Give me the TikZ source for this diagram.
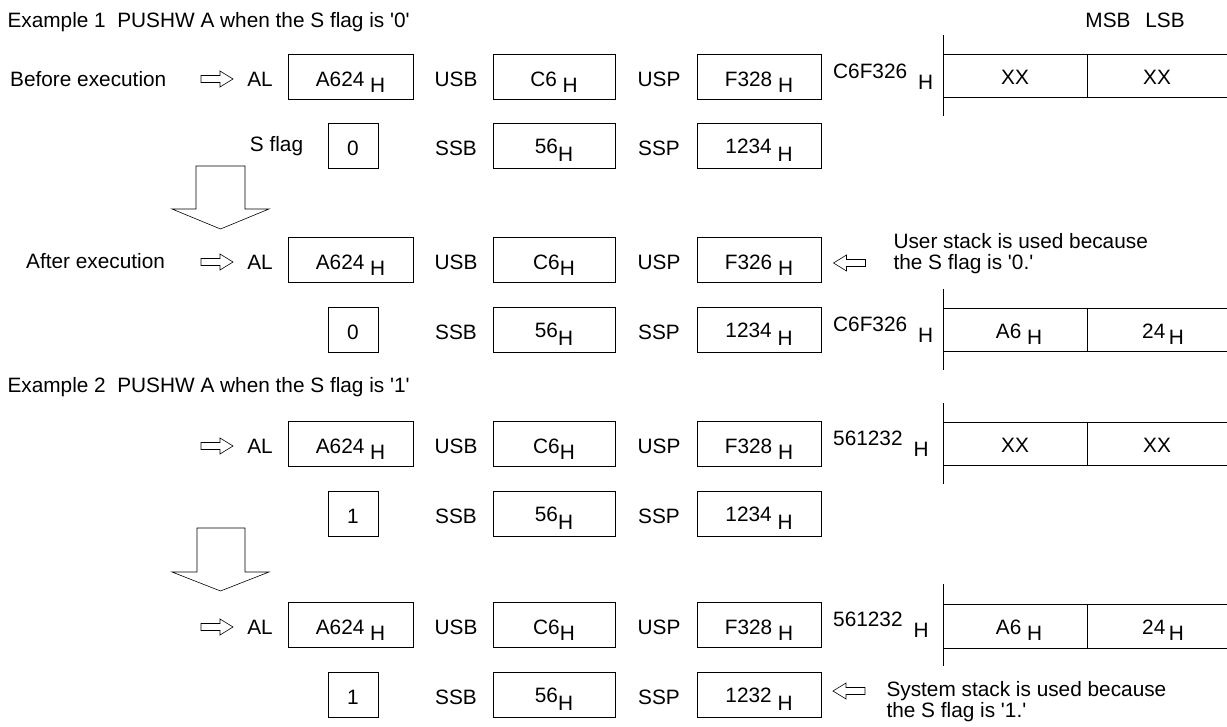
\documentclass[tikz,border=0pt]{standalone}
\usepackage{fontspec}
\setmainfont{Liberation Sans}
\newcommand{\hsub}{\lower6pt\hbox{H}}
\newcommand{\hadr}{\raisebox{-3pt}{H}}
\newcommand{\qt}{\textquotesingle}
\tikzset{
  txt/.style={inner sep=0pt, text height=19pt, text depth=0pt},
  regbox/.style={txt, draw, line width=0.9pt, minimum width=#1, minimum height=45pt},
  memline/.style={line width=0.8pt},
  hollow/.style={line width=0.6pt},
  rarr/.pic={\draw[hollow] (-16,-3.5) -- (3,-3.5) -- (3,-8) -- (16,0) -- (3,8) -- (3,3.5) -- (-16,3.5) -- cycle;},
}

\begin{document}
\begin{tikzpicture}[x=1pt, y=-1pt, font=\fontsize{20.8}{21.5}\selectfont]
\useasboundingbox (0,0) rectangle (1227,727);

%% == EXAMPLE 1 ===============================================================
\node[anchor=base west] (ex1) at (4,28) {Example 1\ \ PUSHW A when the S flag is \qt0\qt};
\node[anchor=base] (msb) at (1108,28) {MSB};
\node[anchor=base] (lsb) at (1165,28) {LSB};

% before execution
\node[txt, anchor=west] (before) at (10,77) {Before execution};
\pic at (217,79) {rarr};
\node[txt] (al1n) at (260,77) {AL};
\node[regbox=125pt] (al1) at (350.5,77) {A624 \hsub};
\node[txt] (usb1n) at (456,77) {USB};
\node[regbox=122pt] (usb1) at (554,77) {C6 \hsub};
\node[txt] (usp1n) at (659,77) {USP};
\node[regbox=124pt] (usp1) at (759,77) {F328 \hsub};
\node[txt, anchor=west] (adr1) at (833,77) {\raisebox{8pt}{C6F326}\hspace{11pt}\hadr};
\draw[memline] (943,35) -- (943,116);
\draw[memline] (943,54) -- (1227,54) (943,97) -- (1227,97) (1087,54) -- (1087,97);
\node[txt] (m1hi) at (1015,75.5) {XX};
\node[txt] (m1lo) at (1157,75.5) {XX};

\node[txt] (sflagn) at (276.5,142) {S flag};
\node[regbox=50pt] (sflag1) at (353,146) {0};
\node[txt] (ssb1n) at (456,146) {SSB};
\node[regbox=122pt] (ssb1) at (554,146) {\raisebox{2pt}{56}\hsub};
\node[txt] (ssp1n) at (659,146) {SSP};
\node[regbox=124pt] (ssp1) at (759,146) {\raisebox{2pt}{1234} \hsub};

\draw[hollow] (196,166) -- (245,166) -- (245,209) -- (269,209) -- (220.5,229)
  -- (172,209) -- (196,209) -- cycle;

% after execution
\node[txt, anchor=west] (after) at (26,259) {After execution};
\pic at (217,262) {rarr};
\node[txt] (al2n) at (260,260) {AL};
\node[regbox=125pt] (al2) at (350.5,260) {A624 \hsub};
\node[txt] (usb2n) at (456,260) {USB};
\node[regbox=122pt] (usb2) at (554,260) {C6\hsub};
\node[txt] (usp2n) at (659,260) {USP};
\node[regbox=124pt] (usp2) at (759,260) {F326 \hsub};
\pic[rotate=180] at (849.5,263) {rarr};
\node[anchor=base west] (usr1) at (890,248.5) {User stack is used because};
\node[anchor=base west] (usr2) at (890,269.5) {the S flag is \qt0.\qt};

\node[regbox=50pt] (sflag2) at (353,330) {0};
\node[txt] (ssb2n) at (456,330) {SSB};
\node[regbox=122pt] (ssb2) at (554,330) {\raisebox{2pt}{56}\hsub};
\node[txt] (ssp2n) at (659,330) {SSP};
\node[regbox=124pt] (ssp2) at (759,330) {\raisebox{2pt}{1234} \hsub};
\node[txt, anchor=west] (adr2) at (833,330) {\raisebox{8pt}{C6F326}\hspace{11pt}\hadr};
\draw[memline] (943,289) -- (943,370);
\draw[memline] (943,308) -- (1227,308) (943,351) -- (1227,351) (1087,308) -- (1087,351);
\node[txt] (m2hi) at (1019,329.5) {A6 \hsub};
\node[txt] (m2lo) at (1163,329.5) {24\,\hsub};

%% == EXAMPLE 2 ===============================================================
\node[anchor=base west] (ex2) at (4,393) {Example 2\ \ PUSHW A when the S flag is \qt1\qt};

% before execution
\pic at (217,446) {rarr};
\node[txt] (al3n) at (260,444) {AL};
\node[regbox=125pt] (al3) at (350.5,444) {A624 \hsub};
\node[txt] (usb3n) at (456,444) {USB};
\node[regbox=122pt] (usb3) at (554,444) {C6\hsub};
\node[txt] (usp3n) at (659,444) {USP};
\node[regbox=124pt] (usp3) at (759,444) {F328 \hsub};
\node[txt, anchor=west] (adr3) at (833,444) {\raisebox{8pt}{561232}\hspace{11pt}\hadr};
\draw[memline] (943,403) -- (943,484);
\draw[memline] (943,422) -- (1227,422) (943,465) -- (1227,465) (1087,422) -- (1087,465);
\node[txt] (m3hi) at (1015,443.5) {XX};
\node[txt] (m3lo) at (1157,443.5) {XX};

\node[regbox=50pt] (sflag3) at (353,514) {1};
\node[txt] (ssb3n) at (456,514) {SSB};
\node[regbox=122pt] (ssb3) at (554,514) {\raisebox{2pt}{56}\hsub};
\node[txt] (ssp3n) at (659,514) {SSP};
\node[regbox=124pt] (ssp3) at (759,514) {\raisebox{2pt}{1234} \hsub};

\draw[hollow] (197,528) -- (245,528) -- (245,572) -- (269,572) -- (220.5,591)
  -- (172,572) -- (197,572) -- cycle;

% after execution
\pic at (217,627) {rarr};
\node[txt] (al4n) at (260,625) {AL};
\node[regbox=125pt] (al4) at (350.5,625) {A624 \hsub};
\node[txt] (usb4n) at (456,625) {USB};
\node[regbox=122pt] (usb4) at (554,625) {C6\hsub};
\node[txt] (usp4n) at (659,625) {USP};
\node[regbox=124pt] (usp4) at (759,625) {F328 \hsub};
\node[txt, anchor=west] (adr4) at (833,625) {\raisebox{8pt}{561232}\hspace{11pt}\hadr};
\draw[memline] (943,584) -- (943,666);
\draw[memline] (943,604) -- (1227,604) (943,648) -- (1227,648) (1087,604) -- (1087,648);
\node[txt] (m4hi) at (1019,625) {A6 \hsub};
\node[txt] (m4lo) at (1163,625) {24\,\hsub};

\node[regbox=50pt] (sflag4) at (353,695) {1};
\node[txt] (ssb4n) at (456,695) {SSB};
\node[regbox=122pt] (ssb4) at (554,695) {\raisebox{2pt}{56}\hsub};
\node[txt] (ssp4n) at (659,695) {SSP};
\node[regbox=124pt] (ssp4) at (759,695) {\raisebox{2pt}{1232} \hsub};
\pic[rotate=180] at (849,691) {rarr};
\node[anchor=base west] (sys1) at (883,696.5) {System stack is used because};
\node[anchor=base west] (sys2) at (883,717.5) {the S flag is \qt1.\qt};
\end{tikzpicture}
\end{document}
